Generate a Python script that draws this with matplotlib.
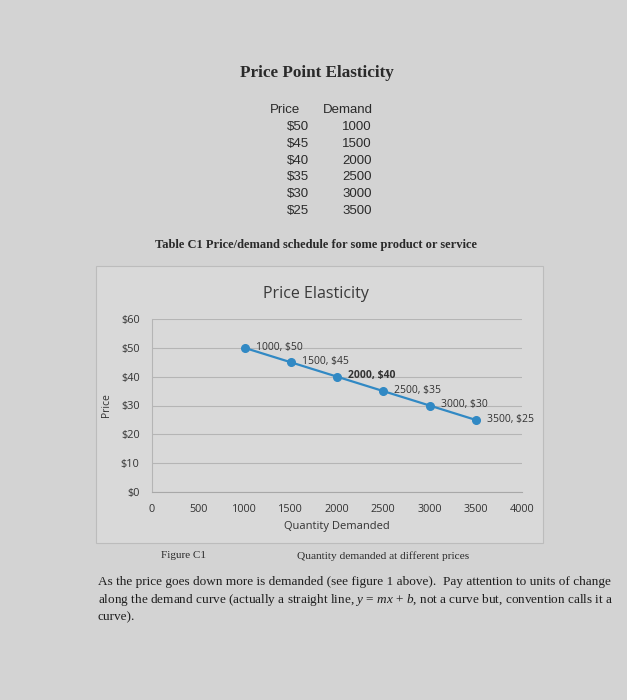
import matplotlib.pyplot as plt
from matplotlib.patches import Rectangle

prices = [50, 45, 40, 35, 30, 25]
demand = [1000, 1500, 2000, 2500, 3000, 3500]
y_ticks = [0, 10, 20, 30, 40, 50, 60]
x_ticks = [0, 500, 1000, 1500, 2000, 2500, 3000, 3500, 4000]

W, H = 627, 700
paper = '#d3d3d3'
blue = '#3189c4'
ink = '#2a2a2a'

plt.rcParams['mathtext.fontset'] = 'custom'
plt.rcParams['mathtext.rm'] = 'Liberation Serif'
plt.rcParams['mathtext.it'] = 'Liberation Serif:italic'

fig = plt.figure(figsize=(W / 100, H / 100), dpi=100, facecolor=paper)


def px(x, y):
    return x / W, 1 - y / H


# page header and table
fig.text(*px(317, 73), 'Price Point Elasticity', family='Liberation Serif',
         weight='bold', size=12.3, ha='center', va='center', color=ink)
fig.text(*px(285, 110), 'Price', family='Liberation Sans', size=9.5,
         ha='center', va='center', color=ink)
fig.text(*px(348, 110), 'Demand', family='Liberation Sans', size=9.5,
         ha='center', va='center', color=ink)
for i, (p, d) in enumerate(zip(prices, demand)):
    yy = 127 + i * 16.8
    fig.text(*px(309, yy), '$%d' % p, family='Liberation Sans', size=9.5,
             ha='right', va='center', color=ink)
    fig.text(*px(372, yy), str(d), family='Liberation Sans', size=9.5,
             ha='right', va='center', color=ink)

fig.text(*px(155, 245), 'Table C1 Price/demand schedule for some product or service',
         family='Liberation Serif', weight='bold', size=9, ha='left',
         va='center', color=ink)

# chart frame
fig.patches.append(Rectangle(px(96, 543), 447 / W, 277 / H, transform=fig.transFigure,
                             facecolor='#d9d9d9', edgecolor='#bcbcbc', lw=0.8,
                             zorder=-5))

fig.text(*px(316, 294), 'Price Elasticity', family='Open Sans', size=11.5,
         ha='center', va='center', color='#3a3a3a')

ax = fig.add_axes([152 / W, 1 - 492 / H, 370 / W, 173 / H])
ax.set_facecolor('none')
ax.plot(demand, prices, color=blue, lw=1.6, marker='o', ms=5.5)
for d, p in zip(demand, prices):
    ax.annotate('%d, $%d' % (d, p), (d, p), xytext=(8, 0.5),
                textcoords='offset points', ha='left', va='center',
                size=7.5, family='Open Sans', color='#333333',
                weight='bold' if d == 2000 else 'normal')

ax.set_xlim(0, 4000)
ax.set_ylim(0, 60)
ax.set_xticks(x_ticks)
ax.set_yticks(y_ticks)
ax.set_yticklabels(['$%d' % v for v in y_ticks])
ax.grid(axis='y', color='#b5b5b5', lw=0.8)
ax.set_axisbelow(True)
for s in ['top', 'right']:
    ax.spines[s].set_visible(False)
ax.spines['left'].set_color('#b5b5b5')
ax.spines['bottom'].set_color('#a8a8a8')
ax.tick_params(length=0, labelsize=7.8, colors='#333333', pad=9)
for lab in ax.get_xticklabels() + ax.get_yticklabels():
    lab.set_family('Open Sans')
ax.set_xlabel('Quantity Demanded', family='Open Sans', size=8, color='#333333',
              labelpad=4)
ax.set_ylabel('Price', family='Open Sans', size=7.5, color='#333333', labelpad=6)

# captions below chart
fig.text(*px(183, 556), 'Figure C1', family='Liberation Serif', size=8,
         ha='center', va='center', color=ink)
fig.text(*px(383, 556), 'Quantity demanded at different prices',
         family='Liberation Serif', size=8.2, ha='center', va='center', color=ink)

para = [
    'As the price goes down more is demanded (see figure 1 above).  Pay attention to units of change',
    'along the demand curve (actually a straight line, $y$ = $mx$ + $b$, not a curve but, convention calls it a',
    'curve).',
]
for i, line in enumerate(para):
    fig.text(*px(98, 582 + i * 17.5), line, family='Liberation Serif', size=9.55,
             ha='left', va='center', color='#1e1e1e')

fig.savefig('out.png', dpi=100, facecolor=paper)
